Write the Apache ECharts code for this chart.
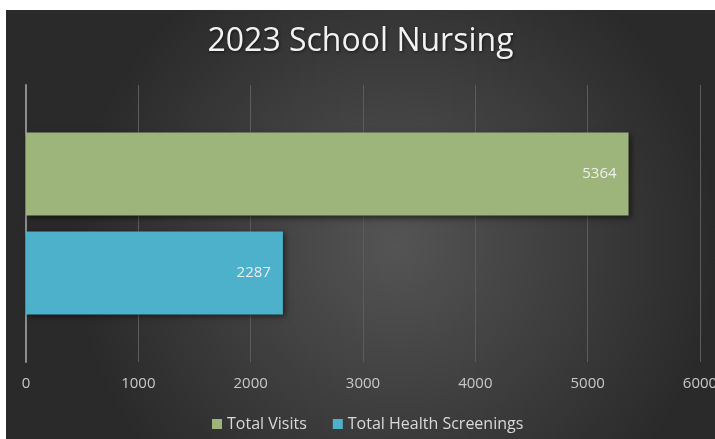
<!DOCTYPE html>
<html>
<head>
<meta charset="utf-8">
<script src="https://cdn.jsdelivr.net/npm/echarts@6/dist/echarts.min.js"></script>
<style>
    html, body { margin: 0; padding: 0; background: #ffffff; overflow: hidden; }
    #main { position: absolute; left: 6px; top: 10px; width: 709px; height: 429px; }
</style>
</head>
<body>
<div id="main"></div>
<script>
var titleText = '2023 School Nursing';
var categories = ['2023'];
var seriesNames = ['Total Visits', 'Total Health Screenings'];
var totalVisits = [5364];
var totalScreenings = [2287];
var tickMax = 6000;
var tickStep = 1000;

// 基于准备好的dom，初始化echarts实例
var myChart = echarts.init(document.getElementById('main'));

var option = {
    backgroundColor: {
        type: 'radial',
        x: 0.55, y: 0.55, r: 0.75,
        colorStops: [
            { offset: 0, color: '#545454' },
            { offset: 1, color: '#2a2a2a' }
        ]
    },
    textStyle: { fontFamily: 'Open Sans' },
    title: {
        text: titleText,
        left: 'center',
        top: 11,
        textStyle: {
            color: '#f2f2f2',
            fontSize: 32,
            fontWeight: 'normal',
            fontFamily: 'Open Sans',
            textShadowColor: 'rgba(0,0,0,0.6)',
            textShadowBlur: 3,
            textShadowOffsetX: 1,
            textShadowOffsetY: 1
        }
    },
    legend: {
        data: seriesNames,
        bottom: 2,
        left: 201,
        itemWidth: 10,
        itemHeight: 10,
        itemGap: 26,
        icon: 'rect',
        textStyle: { color: '#d9d9d9', fontSize: 16 }
    },
    grid: {
        left: 20,
        right: 15,
        top: 75,
        bottom: 77,
        outerBoundsMode: 'none'
    },
    xAxis: {
        type: 'value',
        min: 0,
        max: tickMax,
        interval: tickStep,
        axisLine: { show: false },
        axisTick: { show: false },
        axisLabel: {
            color: '#c8c8c8',
            fontSize: 15,
            margin: 14,
            formatter: function (v) { return String(v); }
        },
        splitLine: { lineStyle: { color: '#5c5c5c', width: 1 } }
    },
    yAxis: {
        type: 'category',
        data: categories,
        inverse: true,
        axisLine: { show: true, lineStyle: { color: '#8c8c8c', width: 2 } },
        axisTick: { show: false },
        axisLabel: { show: false }
    },
    series: [
        {
            name: seriesNames[0],
            type: 'bar',
            data: totalVisits,
            barWidth: 83,
            barGap: '19%',
            itemStyle: {
                color: '#9db57b',
                shadowColor: 'rgba(0,0,0,0.55)',
                shadowBlur: 6,
                shadowOffsetX: 2,
                shadowOffsetY: 2
            },
            label: {
                show: true,
                position: 'insideRight',
                distance: 12,
                color: '#eeeeee',
                fontSize: 15
            }
        },
        {
            name: seriesNames[1],
            type: 'bar',
            data: totalScreenings,
            barWidth: 83,
            itemStyle: {
                color: '#4db1cb',
                shadowColor: 'rgba(0,0,0,0.55)',
                shadowBlur: 6,
                shadowOffsetX: 2,
                shadowOffsetY: 2
            },
            label: {
                show: true,
                position: 'insideRight',
                distance: 12,
                color: '#eeeeee',
                fontSize: 15
            }
        }
    ]
};

// 使用刚指定的配置项和数据显示图表。
myChart.setOption(option);
</script>
</body>
</html>
